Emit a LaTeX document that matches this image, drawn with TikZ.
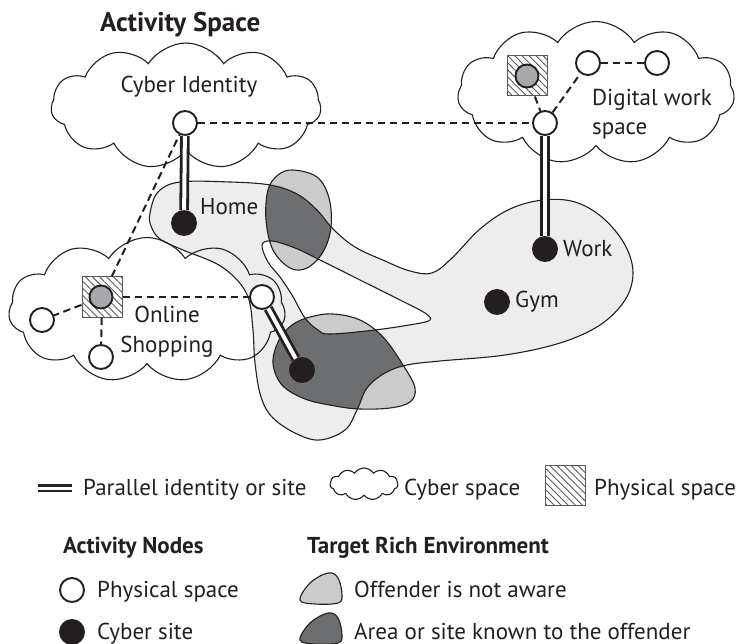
\documentclass[tikz,border=0pt]{standalone}
\usepackage{fontspec}
\setmainfont{PT Sans}
\usetikzlibrary{shapes.symbols,patterns.meta,backgrounds}

\definecolor{ink}{HTML}{231F20}
\definecolor{spacefill}{HTML}{EDEDED}
\definecolor{unaware}{HTML}{CBCBCC}
\definecolor{known}{HTML}{6D6E70}
\definecolor{sitefill}{HTML}{A7A9AC}
\definecolor{hatchline}{HTML}{58595B}

\tikzset{
  lbl/.style={font=\fontsize{23}{27}\selectfont, text=ink, inner sep=0pt, anchor=base west},
  lblc/.style={lbl, anchor=base},
  head/.style={lbl, font=\fontsize{23}{27}\selectfont\bfseries},
  titletext/.style={lbl, font=\fontsize{27}{31}\selectfont\bfseries},
  physnode/.style={circle, draw=ink, line width=1.9pt, fill=white, minimum size=24pt, inner sep=0pt},
  cybernode/.style={circle, draw=ink, line width=1.9pt, fill=ink, minimum size=24pt, inner sep=0pt},
  sitenode/.style={circle, draw=ink, line width=1.9pt, fill=sitefill, minimum size=23pt, inner sep=0pt},
  hatchbox/.style={rectangle, draw=hatchline, line width=1pt, fill=white, minimum size=40pt, inner sep=0pt,
     postaction={pattern color=hatchline, pattern={Lines[angle=-45,distance=5pt,line width=0.9pt]}}},
  link/.style={draw=ink, dash pattern=on 7.5pt off 4.5pt, line width=2pt},
  parallel/.style={draw=ink, double=white, double distance=4pt, line width=2.8pt},
  cloudy/.style={cloud, draw=ink, line width=1.1pt, cloud puffs=11, cloud puff arc=115,
     cloud ignores aspect, inner sep=0pt},
  rim/.style={draw=ink, line width=1.1pt},
  % activity space: outer boundary plus the enclosed hole (reverse orientation)
  spacepath/.style={insert path={
    plot[smooth cycle, tension=0.6] coordinates {(150,213) (158,192) (180,182) (230,182) (270,185)
      (297,194) (317,210) (333,229) (355,247) (385,261) (410,271) (432,273) (452,258) (480,229)
      (510,209) (543,200) (575,202) (603,218) (625,245) (633,273) (625,300) (600,325) (560,343)
      (505,355) (440,361) (407,365) (385,373) (367,388) (357,410) (345,430) (320,440) (297,434)
      (273,418) (261,397) (255,363) (253,330) (249,300) (238,281) (217,264) (183,250) (160,239)
      (151,226)}
    plot[smooth cycle, tension=0.6] coordinates {(262,245) (268,262) (280,277) (292,295) (305,318)
      (318,330) (330,334) (375,330) (415,324) (430,320) (425,313) (400,300) (360,280) (320,260)
      (295,248) (272,241)}
  }},
  upperblob/.style={insert path={
    plot[smooth cycle, tension=0.6] coordinates {(293,170) (317,177) (329,198) (331,227) (323,252)
      (307,268) (290,268) (273,250) (266,220) (268,190) (278,175)}
  }},
  lowerblob/.style={insert path={
    plot[smooth cycle, tension=0.6] coordinates {(333,314) (360,320) (383,337) (403,365) (415,388)
      (410,402) (390,408) (360,409) (335,406) (305,399) (282,385) (273,363) (279,340) (292,325)
      (310,317)}
  }},
}

\begin{document}
\begin{tikzpicture}[x=1pt, y=-1pt]
\useasboundingbox (0,0) rectangle (736,644);

% ---------- nodes of the activity network ----------
\node[titletext] (title) at (100,32) {Activity Space};

\node[physnode] (ci) at (185,123) {};
\node[cybernode] (home) at (184,223) {};
\node[physnode] (dws) at (545,123) {};
\node[hatchbox] (dwbox) at (527,76) {};
\node[sitenode] (dwsite) at (527,76) {};
\node[physnode] (dwa) at (588,63) {};
\node[physnode] (dwb) at (657,63) {};
\node[cybernode] (work) at (545,249) {};
\node[cybernode] (gym) at (497,302) {};
\node[hatchbox] (osbox) at (102,297) {};
\node[sitenode] (ossite) at (101,297) {};
\node[physnode] (osl) at (42,320) {};
\node[physnode] (osb) at (101,357) {};
\node[physnode] (osr) at (262,297) {};
\node[cybernode] (shop) at (302,370) {};

% ---------- cyber spaces and the physical activity space ----------
\begin{scope}[on background layer]
  \node[cloudy, fill=white, minimum width=270pt, minimum height=126pt] (ciCloud) at (186,106) {};
  \node[cloudy, fill=white, minimum width=277pt, minimum height=143pt] (dwCloud) at (596,93) {};

  \fill[spacefill, even odd rule, spacepath];
  \fill[unaware, upperblob];
  \fill[unaware, lowerblob];
  \begin{scope}
    \clip[spacepath];
    \fill[known, upperblob];
    \fill[known, lowerblob];
  \end{scope}
  \path[rim, spacepath];
  \path[rim, upperblob];
  \path[rim, lowerblob];

  \node[cloudy, minimum width=277pt, minimum height=145pt] (osCloud) at (147,310) {};
\end{scope}

% ---------- connectors ----------
\draw[link] (ci) -- (dws);
\draw[link] (osbox) -- (ci);
\draw[link] (osbox) -- (osr);
\draw[link] (osbox) -- (osl);
\draw[link] (osbox) -- (osb);
\draw[link] (dwbox) -- (dws);
\draw[link] (dws) -- (dwa);
\draw[link] (dwa) -- (dwb);
\draw[parallel] (ci) -- (home);
\draw[parallel] (dws) -- (work);
\draw[parallel] (osr) -- (shop);

% ---------- labels ----------
\node[lblc] (ciText) at (189,93) {Cyber Identity};
\node[lbl] (dwText1) at (592,106) {Digital work};
\node[lbl] (dwText2) at (592,135) {space};
\node[lblc] (osText1) at (167,323) {Online};
\node[lblc] (osText2) at (167,352) {Shopping};
\node[lbl] (homeText) at (200,215) {Home};
\node[lbl] (workText) at (563,257) {Work};
\node[lbl] (gymText) at (515,308) {Gym};

% ---------- legend ----------
\coordinate (eqA) at (38,488);
\coordinate (eqB) at (72,488);
\draw[parallel, double distance=3pt] (eqA) -- (eqB);
\node[lbl] (legPar) at (83,495) {Parallel identity or site};
\node[cloudy, minimum width=68pt, minimum height=32pt] (legCloud) at (364,484) {};
\node[lbl] (legCyber) at (404,495) {Cyber space};
\node[hatchbox] (legBox) at (565,485) {};
\node[lbl] (legPhys) at (594,495) {Physical space};

\node[head] (headNodes) at (63,553) {Activity Nodes};
\node[head] (headTarget) at (307,553) {Target Rich Environment};

\node[physnode] (legWhite) at (72,590) {};
\node[lbl] (legWhiteText) at (97,597) {Physical space};
\node[cybernode] (legBlack) at (72,632) {};
\node[lbl] (legBlackText) at (97,639) {Cyber site};

\path[rim, fill=unaware] plot[smooth cycle, tension=0.6] coordinates
  {(300,600) (310,583) (328,573) (338,578) (342,595) (338,603) (315,604)};
\node[lbl] (legUnaware) at (354,597) {Offender is not aware};
\path[rim, fill=known] plot[smooth cycle, tension=0.6] coordinates
  {(300,640) (310,623) (328,613) (338,618) (342,635) (338,643) (315,644)};
\node[lbl] (legKnown) at (354,639) {Area or site known to the offender};
\end{tikzpicture}
\end{document}
